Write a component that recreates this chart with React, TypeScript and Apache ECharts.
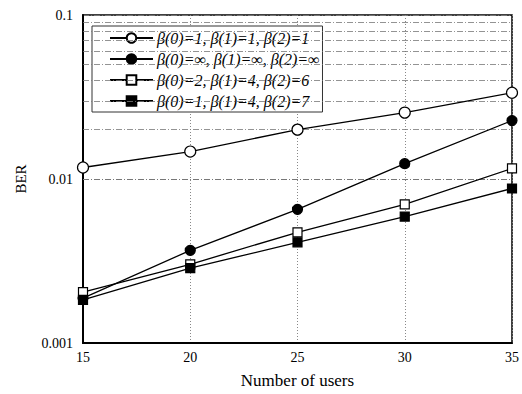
import React, { useEffect, useRef } from "react";
import * as echarts from "echarts";

const users = [15, 20, 25, 30, 35];
const seriesNames = [
  "β(0)=1, β(1)=1, β(2)=1",
  "β(0)=∞, β(1)=∞, β(2)=∞",
  "β(0)=2, β(1)=4, β(2)=6",
  "β(0)=1, β(1)=4, β(2)=7",
];
const berOpenCircle = [0.01175, 0.0147, 0.02, 0.0254, 0.0336];
const berFilledCircle = [0.00188, 0.00367, 0.00653, 0.0124, 0.0227];
const berOpenSquare = [0.00204, 0.00302, 0.00473, 0.007, 0.0116];
const berFilledSquare = [0.00183, 0.00286, 0.00411, 0.0059, 0.00875];
const minorGridValues = [
  0.002, 0.003, 0.004, 0.005, 0.006, 0.007, 0.008, 0.009,
  0.02, 0.03, 0.04, 0.05, 0.06, 0.07, 0.08, 0.09,
];
const yTickLabels: Record<string, string> = { "0.001": "0.001", "0.01": "0.01", "0.1": "0.1" };

const SERIF = "'Liberation Serif', 'DejaVu Serif', serif";

export default function App() {
  const ref = useRef<HTMLDivElement>(null);
  useEffect(() => {
    if (!ref.current) return;
    const chart = echarts.init(ref.current, undefined, { renderer: "svg" });
    const pair = (vals: number[]) => users.map((u, i) => [u, vals[i]]);
    const mk = (
      name: string,
      vals: number[],
      symbol: string,
      size: number,
      fill: string
    ) => ({
      name,
      type: "line",
      data: pair(vals),
      symbol,
      symbolSize: size,
      z: 5,
      lineStyle: { color: "#000", width: 1.3 },
      itemStyle: { color: fill, borderColor: "#000", borderWidth: 1.2 },
    });
    chart.setOption({
      animation: false,
      backgroundColor: "#fff",
      grid: {
        left: 83,
        right: 7,
        top: 15,
        bottom: 50,
        show: true,
        borderColor: "#000",
        borderWidth: 1.5,
        backgroundColor: "transparent",
      },
      legend: {
        data: seriesNames,
        orient: "vertical",
        left: 92,
        top: 26,
        padding: [4, 3, 3, 17],
        itemWidth: 43,
        itemHeight: 12,
        itemGap: 5,
        backgroundColor: "#fff",
        borderColor: "#333",
        borderWidth: 1,
        borderRadius: 0,
        textStyle: {
          fontFamily: SERIF,
          fontStyle: "italic",
          fontSize: 16,
          color: "#000",
          lineHeight: 14,
          padding: [0, 0, 0, -1],
        },
      },
      xAxis: {
        type: "value",
        min: 15,
        max: 35,
        interval: 5,
        name: "Number of users",
        nameLocation: "middle",
        nameGap: 29,
        nameTextStyle: { fontFamily: SERIF, fontSize: 17, color: "#000" },
        axisLine: { show: true, lineStyle: { color: "#000", width: 2 } },
        axisTick: { show: false },
        axisLabel: { fontFamily: SERIF, fontSize: 14, color: "#000", margin: 7 },
        splitLine: { show: true, lineStyle: { color: "#888", type: [1, 2], width: 1 } },
      },
      yAxis: {
        type: "log",
        logBase: 10,
        min: 0.001,
        max: 0.1,
        name: "BER",
        nameLocation: "middle",
        nameRotate: 90,
        nameGap: 55,
        nameTextStyle: { fontFamily: SERIF, fontSize: 15, color: "#000" },
        axisLine: { show: true, lineStyle: { color: "#000", width: 2 } },
        axisTick: { show: false },
        axisLabel: {
          fontFamily: SERIF,
          fontSize: 14,
          color: "#000",
          margin: 10,
          formatter: (v: number) => {
            const k = String(Number(v.toPrecision(3)));
            return yTickLabels[k] ?? k;
          },
        },
        splitLine: { show: true, lineStyle: { color: "#777", type: [6, 2, 1, 2], width: 0.8 } },
      },
      series: [
        {
          type: "line",
          data: [],
          silent: true,
          z: 1,
          markLine: {
            silent: true,
            symbol: ["none", "none"],
            label: { show: false },
            lineStyle: { color: "#777", type: [6, 2, 1, 2], width: 0.8 },
            emphasis: { disabled: true },
            data: minorGridValues.map((v) => ({ yAxis: v })),
          },
        },
        mk(seriesNames[0], berOpenCircle, "circle", 11, "#fff"),
        mk(seriesNames[1], berFilledCircle, "circle", 10, "#000"),
        mk(seriesNames[2], berOpenSquare, "rect", 9, "#fff"),
        mk(seriesNames[3], berFilledSquare, "rect", 9, "#000"),
      ],
    });
    return () => chart.dispose();
  }, []);
  return <div ref={ref} style={{ width: 522, height: 394, position: "absolute", left: 0, top: 0 }} />;
}
